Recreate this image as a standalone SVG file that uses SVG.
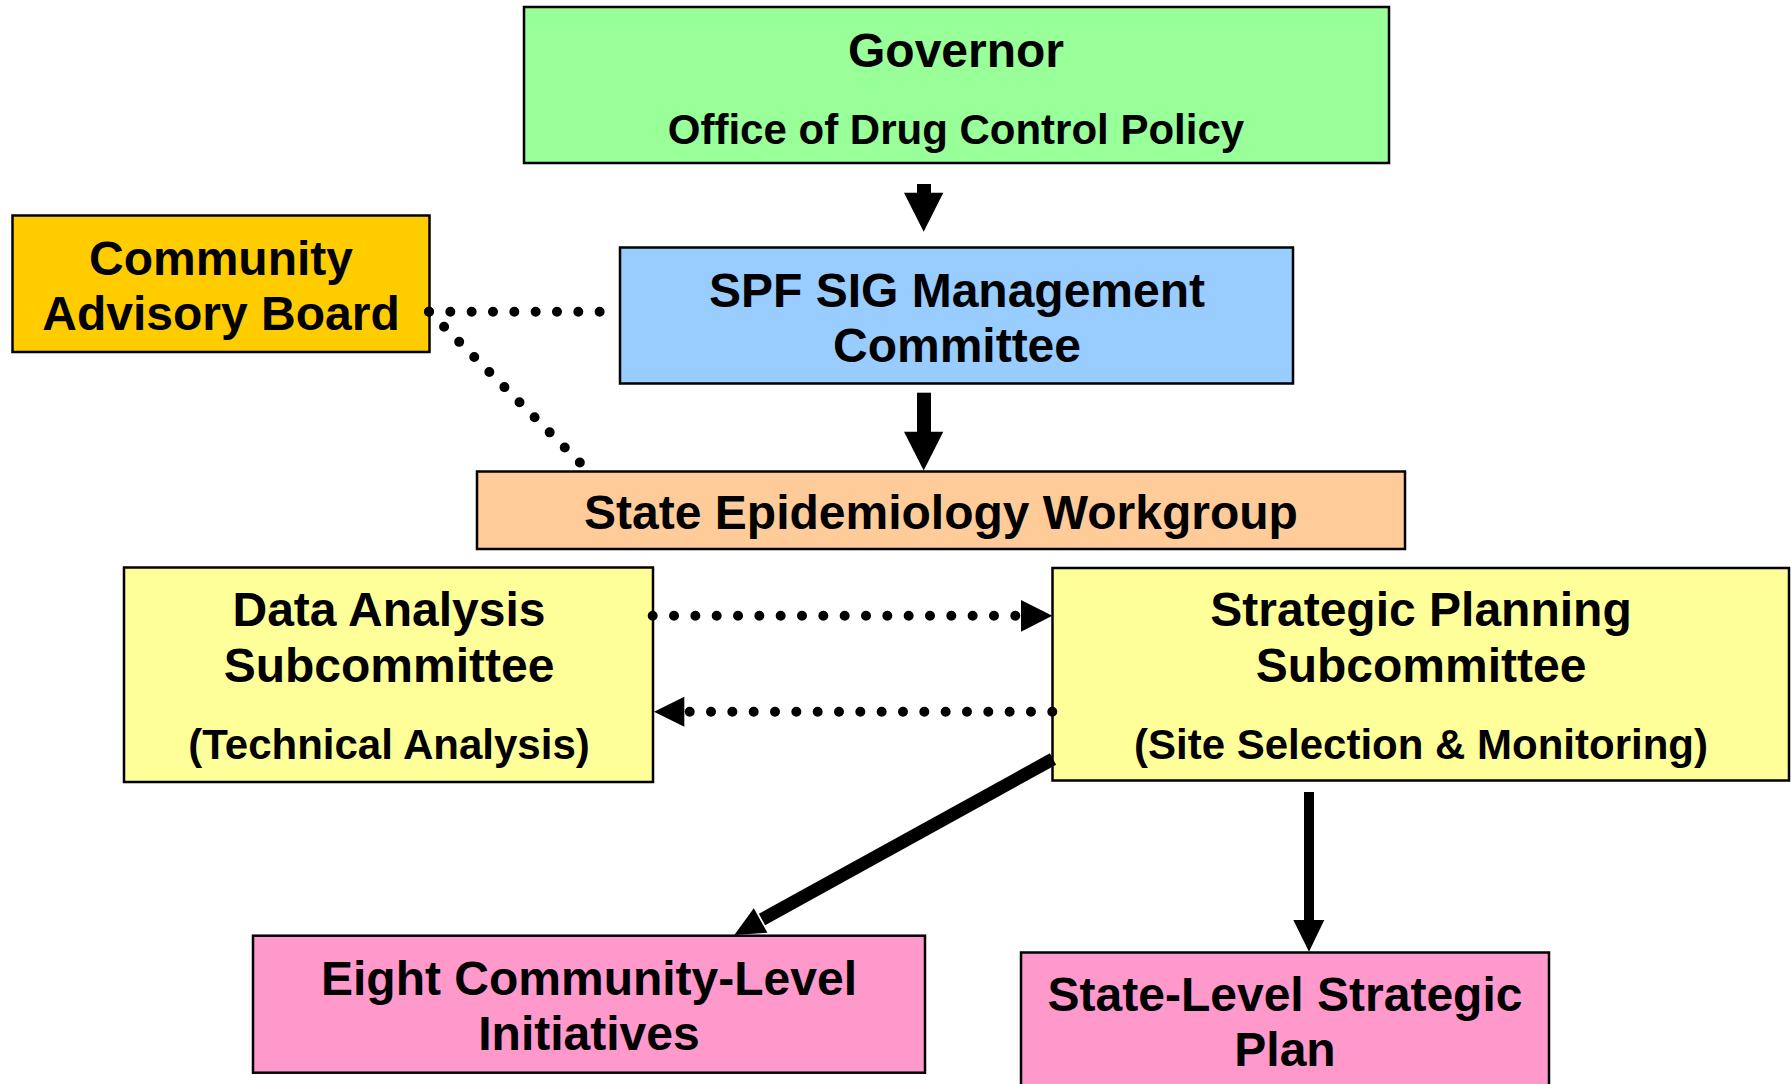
<svg xmlns="http://www.w3.org/2000/svg" width="1791" height="1084" viewBox="0 0 1791 1084">
  <style>
    .box { stroke: #000; stroke-width: 2.5; }
    .t { font-family: "Liberation Sans", Arial, sans-serif; font-weight: bold; fill: #000; text-anchor: middle; }
    .big { font-size: 48px; }
    .sub { font-size: 42px; }
    .dots { fill: none; stroke: #000; stroke-width: 10; stroke-linecap: round; stroke-dasharray: 0 21.33; }
    .solid { fill: none; stroke: #000; }
    .head { fill: #000; stroke: none; }
  </style>
  <rect width="1791" height="1084" fill="#fff"/>

  <g id="governor">
    <rect class="box" x="524" y="7" width="865" height="156" fill="#99FF99"/>
    <text class="t big" x="956" y="67">Governor</text>
    <text class="t sub" x="956" y="144">Office of Drug Control Policy</text>
  </g>

  <g id="community-advisory-board">
    <rect class="box" x="12.5" y="215.5" width="417" height="136.5" fill="#FFCC00"/>
    <text class="t big" x="221" y="275">Community</text>
    <text class="t big" x="221" y="330">Advisory Board</text>
  </g>

  <g id="spf-sig-management">
    <rect class="box" x="620" y="247.5" width="673" height="136" fill="#99CCFF"/>
    <text class="t big" x="957" y="307">SPF SIG Management</text>
    <text class="t big" x="957" y="362">Committee</text>
  </g>

  <g id="state-epidemiology-workgroup">
    <rect class="box" x="477" y="471.5" width="928" height="77.5" fill="#FFCC99"/>
    <text class="t big" x="941" y="529">State Epidemiology Workgroup</text>
  </g>

  <g id="data-analysis">
    <rect class="box" x="124" y="567.5" width="529" height="214.5" fill="#FFFF99"/>
    <text class="t big" x="389" y="626">Data Analysis</text>
    <text class="t big" x="389" y="682">Subcommittee</text>
    <text class="t sub" x="389" y="759">(Technical Analysis)</text>
  </g>

  <g id="strategic-planning">
    <rect class="box" x="1052.5" y="568" width="736.5" height="212.5" fill="#FFFF99"/>
    <text class="t big" x="1421" y="626">Strategic Planning</text>
    <text class="t big" x="1421" y="682">Subcommittee</text>
    <text class="t sub" x="1421" y="759">(Site Selection &amp; Monitoring)</text>
  </g>

  <g id="community-initiatives">
    <rect class="box" x="253" y="935.7" width="672" height="137" fill="#FF99CC"/>
    <text class="t big" x="589" y="995">Eight Community-Level</text>
    <text class="t big" x="589" y="1050">Initiatives</text>
  </g>

  <g id="state-strategic-plan">
    <rect class="box" x="1021" y="952.5" width="528" height="140" fill="#FF99CC"/>
    <text class="t big" x="1285" y="1011">State-Level Strategic</text>
    <text class="t big" x="1285" y="1066">Plan</text>
  </g>

  <g id="connectors">
    <!-- advisory links -->
    <path class="dots" d="M429,311.7 H601"/>
    <path class="dots" d="M429,311.7 L580.5,463.2"/>

    <!-- governor to management committee -->
    <rect x="917" y="184" width="14" height="10" fill="#000"/>
    <polygon class="head" points="904,192.7 943.3,192.7 923.7,231.7"/>

    <!-- management committee to workgroup -->
    <rect x="917" y="392.7" width="14" height="40" fill="#000"/>
    <polygon class="head" points="904,431.7 943.3,431.7 923.7,470.5"/>

    <!-- data analysis to strategic planning -->
    <path class="dots" d="M652.7,615.7 H1017"/>
    <polygon class="head" points="1021,600 1021,631.7 1052.3,615.7"/>

    <!-- strategic planning back to data analysis -->
    <path class="dots" d="M1052.3,711.7 H688.5"/>
    <polygon class="head" points="684.3,696.7 684.3,726.7 654,711.7"/>

    <!-- strategic planning to community initiatives -->
    <line class="solid" x1="1053" y1="759" x2="762" y2="919.5" stroke-width="13"/>
    <polygon class="head" points="734.3,935 753.8,908.2 767.4,932.8"/>

    <!-- strategic planning to state plan -->
    <rect x="1304" y="792" width="10" height="129" fill="#000"/>
    <polygon class="head" points="1293.3,920 1324.3,920 1309,951.7"/>
  </g>
</svg>
